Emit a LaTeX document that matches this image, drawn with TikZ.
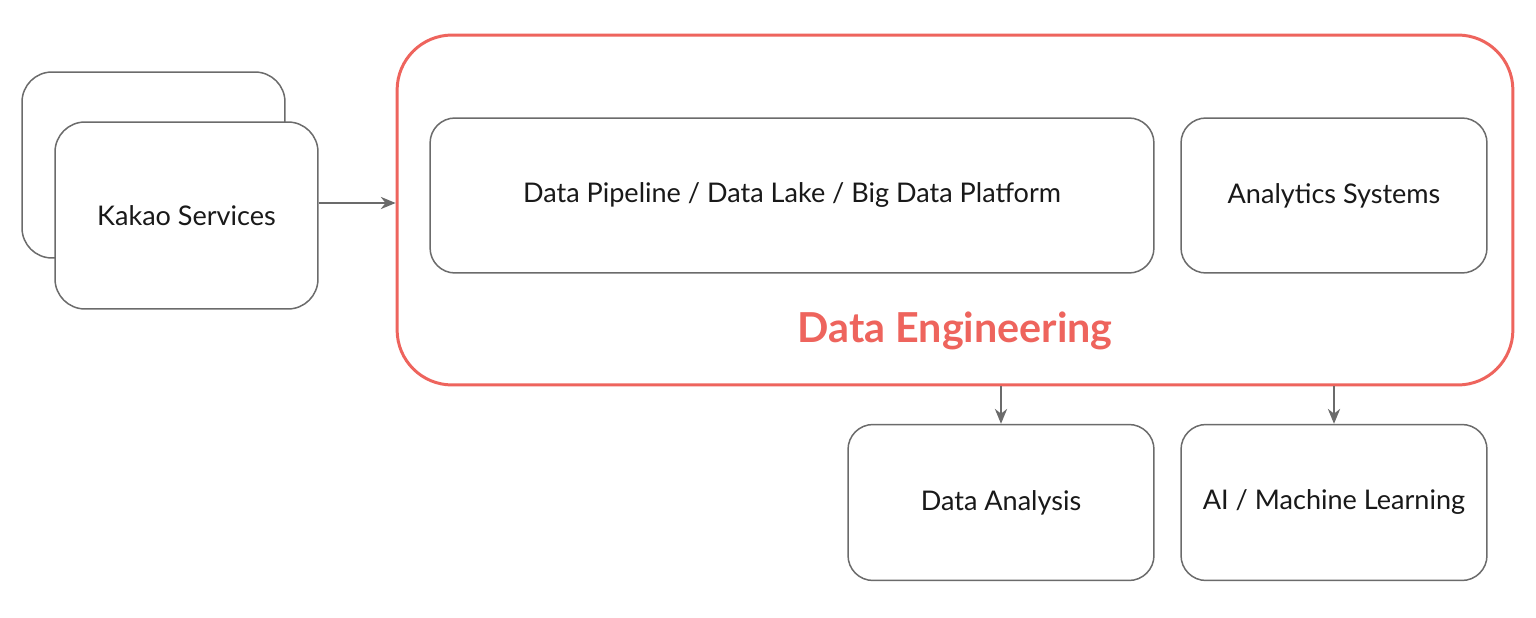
\documentclass[tikz,border=0pt]{standalone}
\usepackage{fontspec}
\setmainfont{Lato}
\usetikzlibrary{arrows.meta,positioning}
\definecolor{boxgray}{HTML}{6B6B6B}
\definecolor{dered}{HTML}{EE645D}

\begin{document}
\begin{tikzpicture}[x=0.02cm,y=-0.02cm,
    box/.style={draw=boxgray, line width=0.85pt, rounded corners=0.5cm, fill=white,
      inner sep=0pt, text=black!90, font=\fontsize{15.4}{18}\selectfont},
    arr/.style={draw=boxgray, line width=0.85pt, -{Stealth[length=8.5pt,width=7pt]}}]
    \useasboundingbox (0,0) rectangle (1536,618);
    % source services, stacked
    \node[box, rounded corners=0.6cm, minimum width=5.26cm, minimum height=3.72cm] (back) at (153.5,165) {};
    \node[box, rounded corners=0.6cm, minimum width=5.26cm, minimum height=3.74cm] (kakao) at (186.5,215.5) {Kakao Services};
    % data engineering frame
    \node[box, draw=dered, line width=1.7pt, rounded corners=1.1cm, minimum width=22.32cm, minimum height=7cm] (de) at (955,210) {};
    \node[box, minimum width=14.48cm, minimum height=3.1cm] (pipe) at (792,195.5) {Data Pipeline / Data Lake / Big Data Platform};
    \node[box, minimum width=6.12cm, minimum height=3.1cm] (ana) at (1334,195.5) {Analytics Systems};
    \node[text=dered, font=\fontsize{23.5}{28}\selectfont\bfseries] (detitle) at (955,331) {Data Engineering};
    % consumers
    \node[box, minimum width=6.12cm, minimum height=3.12cm] (da) at (1001,502.5) {Data Analysis};
    \node[box, minimum width=6.12cm, minimum height=3.12cm] (ml) at (1334,502.5) {AI / Machine Learning};
    \draw[arr] (kakao.east |- 0,203) -- (de.west |- 0,203);
    \draw[arr] (da.north |- de.south) -- (da.north);
    \draw[arr] (ml.north |- de.south) -- (ml.north);
\end{tikzpicture}
\end{document}
